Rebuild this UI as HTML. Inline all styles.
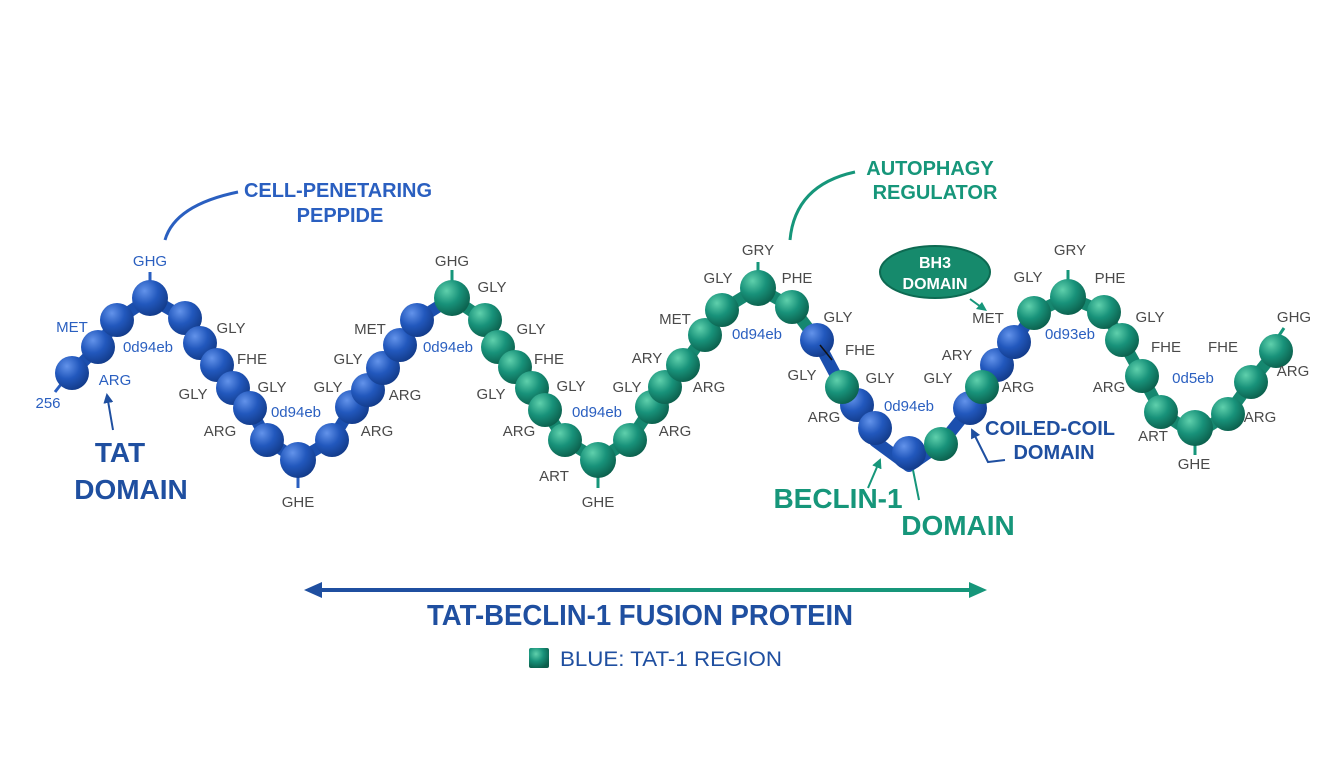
<!DOCTYPE html>
<html><head><meta charset="utf-8"><style>
html,body{margin:0;padding:0;background:#fff;}
svg{display:block;font-family:"Liberation Sans",sans-serif;}
.g{fill:#4a4a4a;font-size:15px;}
.b{fill:#2a5fc0;font-size:15px;}
</style></head><body>
<svg width="1344" height="768" viewBox="0 0 1344 768">
<defs>
<radialGradient id="bb" cx="0.35" cy="0.3" r="0.75"><stop offset="0" stop-color="#6393ea"/><stop offset="0.5" stop-color="#2258bd"/><stop offset="1" stop-color="#123a88"/></radialGradient>
<radialGradient id="gg" cx="0.35" cy="0.3" r="0.75"><stop offset="0" stop-color="#5fd0ac"/><stop offset="0.5" stop-color="#18927a"/><stop offset="1" stop-color="#0b5e4b"/></radialGradient>
<marker id="ab" markerUnits="userSpaceOnUse" markerWidth="10" markerHeight="10" refX="8" refY="5" orient="auto"><path d="M0,0 L10,5 L0,10 z" fill="#1f4fa0"/></marker>
<marker id="ag" markerUnits="userSpaceOnUse" markerWidth="10" markerHeight="10" refX="8" refY="5" orient="auto"><path d="M0,0 L10,5 L0,10 z" fill="#16967a"/></marker>
</defs>
<rect width="1344" height="768" fill="#fff"/>

<!-- stems -->
<g stroke-width="3">
<line x1="150" y1="272" x2="150" y2="288" stroke="#2a5fc0"/>
<line x1="298" y1="470" x2="298" y2="488" stroke="#2a5fc0"/>
<line x1="452" y1="270" x2="452" y2="288" stroke="#16967a"/>
<line x1="598" y1="470" x2="598" y2="488" stroke="#16967a"/>
<line x1="758" y1="262" x2="758" y2="278" stroke="#16967a"/>
<line x1="1068" y1="270" x2="1068" y2="287" stroke="#16967a"/>
<line x1="1195" y1="445" x2="1195" y2="455" stroke="#16967a"/>
<line x1="1276" y1="340" x2="1284" y2="328" stroke="#16967a"/>
<line x1="62" y1="383" x2="55" y2="392" stroke="#2a5fc0"/>
</g>

<!-- backbone -->
<polyline fill="none" stroke="#1b4fae" stroke-width="12" stroke-linejoin="round" points="72,373 98,347 117,320 150,298 185,318 200,343 217,365 233,388 250,408 267,440 298,460 332,440 352,407 368,390 383,368 400,345 417,320 452,298"/>
<polyline fill="none" stroke="#15876f" stroke-width="12" stroke-linejoin="round" points="452,298 485,320 498,347 515,367 532,388 545,410 565,440 598,460 630,440 652,407 665,387 683,365 705,335 722,310 758,288 792,307 817,340"/>
<polyline fill="none" stroke="#1b4fae" stroke-width="12" stroke-linejoin="round" points="817,340 842,387 857,405 875,441 909,466 941,444 970,408 982,387 997,365 1014,342 1034,313"/>
<polyline fill="none" stroke="#15876f" stroke-width="12" stroke-linejoin="round" points="1034,313 1068,297 1104,312 1122,340 1142,376 1161,412 1195,435 1228,414 1251,382 1276,351"/>

<!-- beads -->
<g fill="url(#bb)">
<circle cx="72" cy="373" r="17"/><circle cx="98" cy="347" r="17"/><circle cx="117" cy="320" r="17"/><circle cx="150" cy="298" r="18"/><circle cx="185" cy="318" r="17"/><circle cx="200" cy="343" r="17"/><circle cx="217" cy="365" r="17"/><circle cx="233" cy="388" r="17"/><circle cx="250" cy="408" r="17"/><circle cx="267" cy="440" r="17"/><circle cx="298" cy="460" r="18"/><circle cx="332" cy="440" r="17"/><circle cx="352" cy="407" r="17"/><circle cx="368" cy="390" r="17"/><circle cx="383" cy="368" r="17"/><circle cx="400" cy="345" r="17"/><circle cx="417" cy="320" r="17"/>
</g>
<g fill="url(#gg)">
<circle cx="452" cy="298" r="18"/><circle cx="485" cy="320" r="17"/><circle cx="498" cy="347" r="17"/><circle cx="515" cy="367" r="17"/><circle cx="532" cy="388" r="17"/><circle cx="545" cy="410" r="17"/><circle cx="565" cy="440" r="17"/><circle cx="598" cy="460" r="18"/><circle cx="630" cy="440" r="17"/><circle cx="652" cy="407" r="17"/><circle cx="665" cy="387" r="17"/><circle cx="683" cy="365" r="17"/><circle cx="705" cy="335" r="17"/><circle cx="722" cy="310" r="17"/><circle cx="758" cy="288" r="18"/><circle cx="792" cy="307" r="17"/>
</g>
<g fill="url(#bb)"><circle cx="817" cy="340" r="17"/><circle cx="857" cy="405" r="17"/><circle cx="875" cy="428" r="17"/><circle cx="909" cy="453" r="17"/><circle cx="970" cy="408" r="17"/><circle cx="997" cy="365" r="17"/><circle cx="1014" cy="342" r="17"/></g>
<line x1="820" y1="345" x2="832" y2="360" stroke="#111" stroke-width="1.5"/>
<g fill="url(#gg)"><circle cx="842" cy="387" r="17"/><circle cx="941" cy="444" r="17"/><circle cx="982" cy="387" r="17"/>
<circle cx="1034" cy="313" r="17"/><circle cx="1068" cy="297" r="18"/><circle cx="1104" cy="312" r="17"/><circle cx="1122" cy="340" r="17"/><circle cx="1142" cy="376" r="17"/><circle cx="1161" cy="412" r="17"/><circle cx="1195" cy="428" r="18"/><circle cx="1228" cy="414" r="17"/><circle cx="1251" cy="382" r="17"/><circle cx="1276" cy="351" r="17"/></g>

<!-- residue labels -->
<g class="g" text-anchor="middle">
<text x="72" y="332" class="b">MET</text><text x="115" y="385" class="b">ARG</text>
<text x="231" y="333">GLY</text><text x="252" y="364">FHE</text><text x="272" y="392">GLY</text><text x="193" y="399">GLY</text><text x="220" y="436">ARG</text>
<text x="298" y="507">GHE</text>
<text x="370" y="334">MET</text><text x="348" y="364">GLY</text><text x="328" y="392">GLY</text><text x="405" y="400">ARG</text><text x="377" y="436">ARG</text>
<text x="452" y="266">GHG</text><text x="492" y="292">GLY</text><text x="531" y="334">GLY</text><text x="549" y="364">FHE</text><text x="571" y="391">GLY</text><text x="491" y="399">GLY</text><text x="519" y="436">ARG</text><text x="554" y="481">ART</text><text x="598" y="507">GHE</text>
<text x="675" y="324">MET</text><text x="647" y="363">ARY</text><text x="627" y="392">GLY</text><text x="709" y="392">ARG</text><text x="675" y="436">ARG</text>
<text x="718" y="283">GLY</text><text x="758" y="255">GRY</text><text x="797" y="283">PHE</text>
<text x="838" y="322">GLY</text><text x="860" y="355">FHE</text><text x="802" y="380">GLY</text><text x="880" y="383">GLY</text><text x="824" y="422">ARG</text>
<text x="988" y="323">MET</text><text x="957" y="360">ARY</text><text x="938" y="383">GLY</text><text x="1018" y="392">ARG</text>
<text x="1028" y="282">GLY</text><text x="1070" y="255">GRY</text><text x="1110" y="283">PHE</text><text x="1150" y="322">GLY</text><text x="1166" y="352">FHE</text><text x="1223" y="352">FHE</text><text x="1109" y="392">ARG</text><text x="1153" y="441">ART</text><text x="1194" y="469">GHE</text>
<text x="1294" y="322">GHG</text><text x="1293" y="376">ARG</text><text x="1260" y="422">ARG</text>
</g>
<g class="b" text-anchor="middle">
<text x="150" y="266">GHG</text>
<text x="148" y="352">0d94eb</text><text x="296" y="417">0d94eb</text><text x="448" y="352">0d94eb</text><text x="597" y="417">0d94eb</text><text x="757" y="339">0d94eb</text><text x="909" y="411">0d94eb</text><text x="1070" y="339">0d93eb</text><text x="1193" y="383">0d5eb</text>
<text x="48" y="408">256</text>
</g>

<!-- callouts -->
<path d="M165,240 Q175,205 238,192" fill="none" stroke="#2a5fc0" stroke-width="3"/>
<text x="338" y="197" text-anchor="middle" font-size="20" font-weight="bold" fill="#2a5fc0" textLength="188">CELL-PENETARING</text>
<text x="340" y="222" text-anchor="middle" font-size="20" font-weight="bold" fill="#2a5fc0">PEPPIDE</text>
<path d="M790,240 Q795,185 855,172" fill="none" stroke="#16967a" stroke-width="3"/>
<text x="930" y="175" text-anchor="middle" font-size="20" font-weight="bold" fill="#16967a">AUTOPHAGY</text>
<text x="935" y="199" text-anchor="middle" font-size="20" font-weight="bold" fill="#16967a">REGULATOR</text>
<ellipse cx="935" cy="272" rx="55" ry="26" fill="#168a6c" stroke="#0d6a52" stroke-width="2"/>
<text x="935" y="268" text-anchor="middle" font-size="16" font-weight="bold" fill="#fff">BH3</text>
<text x="935" y="289" text-anchor="middle" font-size="16" font-weight="bold" fill="#fff">DOMAIN</text>
<line x1="970" y1="299" x2="981" y2="307" stroke="#16967a" stroke-width="2"/>
<path d="M987,311 L976,309 L982,302 z" fill="#16967a"/>

<line x1="113" y1="430" x2="107" y2="395" stroke="#1f4fa0" stroke-width="2" marker-end="url(#ab)"/>
<text x="120" y="462" text-anchor="middle" font-size="28" font-weight="bold" fill="#1f4fa0">TAT</text>
<text x="131" y="499" text-anchor="middle" font-size="28" font-weight="bold" fill="#1f4fa0">DOMAIN</text>

<line x1="868" y1="488" x2="880" y2="460" stroke="#16967a" stroke-width="2" marker-end="url(#ag)"/>
<line x1="913" y1="470" x2="919" y2="500" stroke="#16967a" stroke-width="2"/>
<text x="838" y="508" text-anchor="middle" font-size="28" font-weight="bold" fill="#16967a">BECLIN-1</text>
<text x="958" y="535" text-anchor="middle" font-size="28" font-weight="bold" fill="#16967a">DOMAIN</text>

<polyline points="1005,460 988,462 972,430" fill="none" stroke="#1f4fa0" stroke-width="2" marker-end="url(#ab)"/>
<text x="1050" y="435" text-anchor="middle" font-size="20" font-weight="bold" fill="#1f4fa0">COILED-COIL</text>
<text x="1054" y="459" text-anchor="middle" font-size="20" font-weight="bold" fill="#1f4fa0">DOMAIN</text>

<!-- bottom arrow -->
<line x1="315" y1="590" x2="650" y2="590" stroke="#1f4fa0" stroke-width="4"/>
<line x1="650" y1="590" x2="975" y2="590" stroke="#16967a" stroke-width="4"/>
<path d="M304,590 L322,582 L322,598 z" fill="#1f4fa0"/>
<path d="M987,590 L969,582 L969,598 z" fill="#16967a"/>
<text x="640" y="625" text-anchor="middle" font-size="29" font-weight="bold" fill="#1f4fa0" textLength="426" lengthAdjust="spacingAndGlyphs">TAT-BECLIN-1 FUSION PROTEIN</text>
<rect x="529" y="648" width="20" height="20" rx="2" fill="url(#gg)"/>
<text x="560" y="666" font-size="21" fill="#1f4fa0" textLength="222" lengthAdjust="spacingAndGlyphs">BLUE: TAT-1 REGION</text>
</svg>
</body></html>
